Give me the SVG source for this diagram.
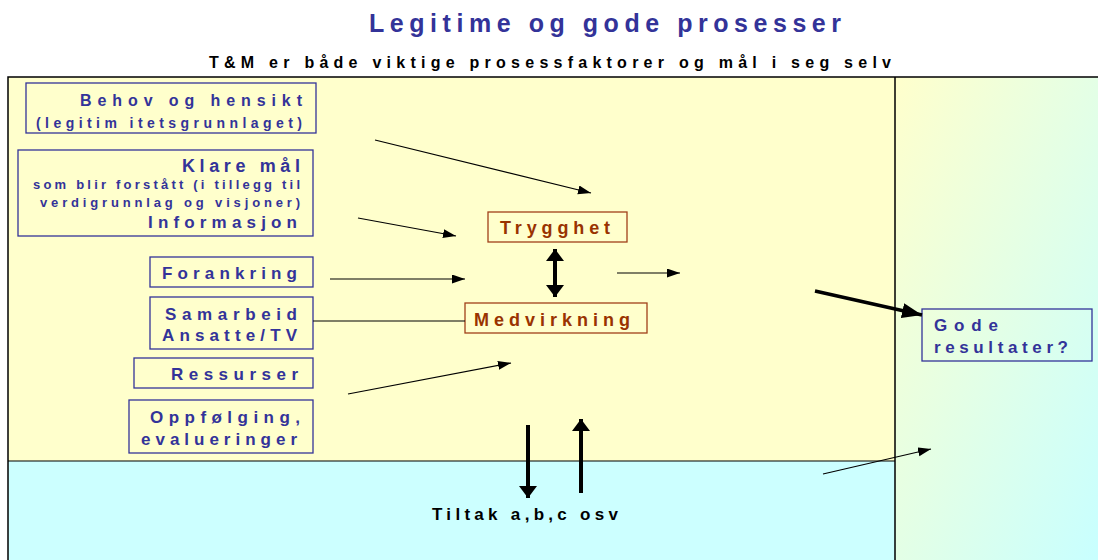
<svg xmlns="http://www.w3.org/2000/svg" width="1098" height="560" viewBox="0 0 1098 560">
<defs>
<linearGradient id="rg" x1="0" y1="0" x2="1" y2="1">
<stop offset="0" stop-color="#FFFFCC"/>
<stop offset="1" stop-color="#C8FFFF"/>
</linearGradient>
<marker id="ah" markerUnits="userSpaceOnUse" markerWidth="14" markerHeight="10" refX="13" refY="4.5" orient="auto"><path d="M0,0 L13,4.5 L0,9 z" fill="#000"/></marker>
<marker id="ahb" markerUnits="userSpaceOnUse" markerWidth="22" markerHeight="16" refX="20" refY="7.5" orient="auto"><path d="M0,0 L20,7.5 L0,15 z" fill="#000"/></marker>
<marker id="ahv" markerUnits="userSpaceOnUse" markerWidth="14" markerHeight="20" refX="12" refY="9" orient="auto-start-reverse"><path d="M0,0 L12,9 L0,18 z" fill="#000"/></marker>
</defs>
<style>
.node{fill:none;stroke:#333399;stroke-width:1.3}
.tnode{fill:none;stroke:#A0401A;stroke-width:1.3}
.t{font-family:"Liberation Sans",Arial,sans-serif;font-weight:bold;fill:#333399;font-size:17px;text-anchor:end}
.s{font-size:13px}
.r{fill:#993300;text-anchor:start;font-size:18px}
.k{fill:#000}
.c{stroke:#000;stroke-width:1.2;fill:none}
.cb{stroke:#000;stroke-width:4;fill:none}
</style>
<rect x="0" y="0" width="1098" height="560" fill="#fff"/>
<rect x="8" y="77" width="887" height="384" fill="#FFFFCC"/>
<rect x="8" y="461" width="887" height="99" fill="#CCFFFF"/>
<rect x="895" y="77" width="203" height="483" fill="url(#rg)"/>
<path d="M8,560 V77 H1098 M895,77 V560" stroke="#000" stroke-width="1.5" fill="none"/>
<path d="M8,461 H895" stroke="#000" stroke-width="1.2" fill="none"/>
<text x="605" y="32" class="t" style="font-size:25px;text-anchor:middle" textLength="472" lengthAdjust="spacing">Legitime og gode prosesser</text>
<text x="550" y="68" class="t k" style="font-size:16px;text-anchor:middle" textLength="682" lengthAdjust="spacing">T&amp;M  er både viktige prosessfaktorer og mål i seg selv</text>
<g id="behov"><rect x="26" y="83" width="290" height="50" class="node"/>
<text x="302" y="106" class="t" style="font-size:16px" textLength="222" lengthAdjust="spacing">Behov og hensikt</text>
<text x="302" y="128" class="t" style="font-size:14px" textLength="266" lengthAdjust="spacing">(legitim itetsgrunnlaget)</text></g>
<g id="klare"><rect x="18" y="150" width="295" height="86" class="node"/>
<text x="300" y="172" class="t" style="font-size:18px" textLength="118" lengthAdjust="spacing">Klare mål</text>
<text x="300" y="189" class="t s" textLength="267" lengthAdjust="spacing">som blir forstått (i tillegg til</text>
<text x="300" y="207" class="t s" textLength="260" lengthAdjust="spacing">verdigrunnlag og visjoner)</text>
<text x="297" y="228" class="t" textLength="149" lengthAdjust="spacing">Informasjon</text></g>
<g id="forankring"><rect x="150" y="257" width="163" height="30" class="node"/>
<text x="297" y="279" class="t" textLength="135" lengthAdjust="spacing">Forankring</text></g>
<g id="samarbeid"><rect x="150" y="297" width="163" height="52" class="node"/>
<text x="297" y="320" class="t" textLength="132" lengthAdjust="spacing">Samarbeid</text>
<text x="297" y="341" class="t" textLength="135" lengthAdjust="spacing">Ansatte/TV</text></g>
<g id="ressurser"><rect x="134" y="358" width="179" height="30" class="node"/>
<text x="298" y="380" class="t" textLength="127" lengthAdjust="spacing">Ressurser</text></g>
<g id="oppfolging"><rect x="129" y="400" width="184" height="53" class="node"/>
<text x="300" y="423" class="t" textLength="150" lengthAdjust="spacing">Oppfølging,</text>
<text x="297" y="445" class="t" textLength="156" lengthAdjust="spacing">evalueringer</text></g>
<g id="trygghet"><rect x="488" y="212" width="139" height="30" class="tnode"/>
<text x="500" y="234" class="t r" textLength="110" lengthAdjust="spacing">Trygghet</text></g>
<g id="medvirkning"><rect x="465" y="303" width="182" height="30" class="tnode"/>
<text x="474" y="326" class="t r" textLength="156" lengthAdjust="spacing">Medvirkning</text></g>
<g id="gode"><rect x="922" y="309" width="170" height="52" class="node"/>
<text x="934" y="331" class="t" style="text-anchor:start" textLength="64" lengthAdjust="spacing">Gode</text>
<text x="934" y="353" class="t" style="text-anchor:start" textLength="134" lengthAdjust="spacing">resultater?</text></g>
<g id="tiltak"><text x="432" y="520" class="t k" style="text-anchor:start" textLength="186" lengthAdjust="spacing">Tiltak a,b,c osv</text></g>
<g id="connectors">
<line x1="375" y1="140" x2="591" y2="193" class="c" marker-end="url(#ah)"/>
<line x1="358" y1="218" x2="456" y2="236" class="c" marker-end="url(#ah)"/>
<line x1="330" y1="279" x2="465" y2="279" class="c" marker-end="url(#ah)"/>
<line x1="313" y1="321" x2="465" y2="321" class="c"/>
<line x1="348" y1="394" x2="511" y2="363" class="c" marker-end="url(#ah)"/>
<line x1="617" y1="273" x2="680" y2="273" class="c" marker-end="url(#ah)"/>
<line x1="555" y1="249" x2="555" y2="297" class="cb" marker-start="url(#ahv)" marker-end="url(#ahv)"/>
<line x1="815" y1="291" x2="922" y2="315" class="cb" style="stroke-width:3.5" marker-end="url(#ahb)"/>
<line x1="823" y1="474" x2="931" y2="449" class="c" marker-end="url(#ah)"/>
<line x1="528" y1="425" x2="528" y2="498" class="cb" marker-end="url(#ahv)"/>
<line x1="581" y1="493" x2="581" y2="419" class="cb" marker-end="url(#ahv)"/>
</g>
</svg>
